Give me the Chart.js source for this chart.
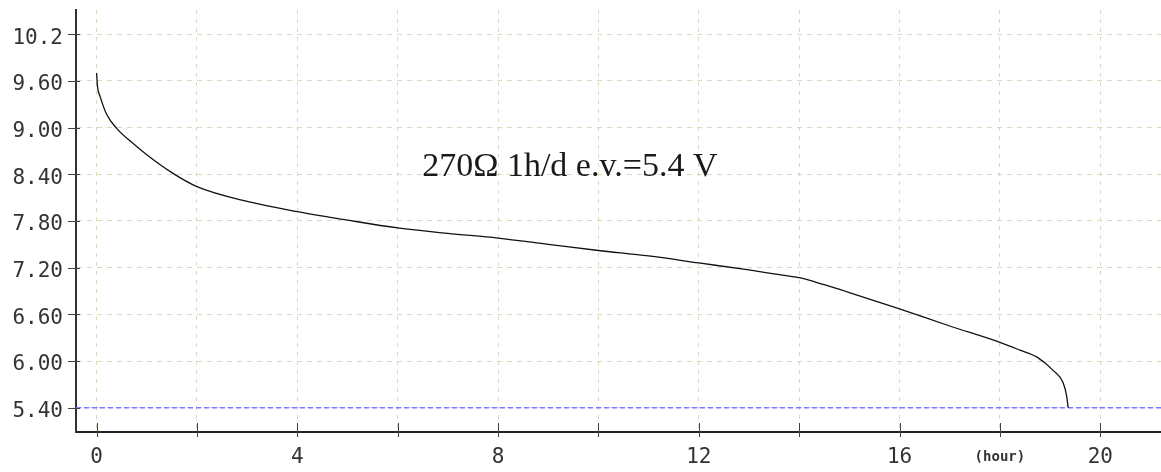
<!DOCTYPE html>
<html>
<head>
<meta charset="utf-8">
<script src="https://cdn.jsdelivr.net/npm/chart.js@4/dist/chart.umd.min.js"></script>
<style>
  html, body { margin: 0; padding: 0; background: #fff; }
  #wrap { width: 1161px; height: 472px; }
</style>
</head>
<body>
<div id="wrap"><canvas id="dischargeChart"></canvas></div>
<script>
// discharge curve (hours, volts)
const hours = [0, 0.02, 0.07, 0.2, 0.4, 0.7, 1.0, 1.5, 2, 3, 4, 5, 6, 7, 8, 9, 10, 11, 12, 13, 13.5, 14, 14.5, 15, 16, 17, 18, 18.4, 18.74, 19.06, 19.26, 19.33, 19.36];
const volts = [9.70, 9.52, 9.40, 9.17, 8.99, 8.81, 8.65, 8.42, 8.24, 8.05, 7.92, 7.81, 7.71, 7.64, 7.58, 7.50, 7.42, 7.35, 7.26, 7.17, 7.12, 7.07, 6.98, 6.88, 6.67, 6.45, 6.24, 6.14, 6.05, 5.88, 5.72, 5.55, 5.40];

// end voltage line
const endVoltage = 5.4;

// axes
const xTicks = [0, 2, 4, 6, 8, 10, 12, 14, 16, 18, 20];
const xTickLabels = ['0', '', '4', '', '8', '', '12', '', '16', '(hour)', '20'];
const yTicks = [5.4, 6.0, 6.6, 7.2, 7.8, 8.4, 9.0, 9.6, 10.2];
const yTickLabels = ['5.40', '6.00', '6.60', '7.20', '7.80', '8.40', '9.00', '9.60', '10.2'];
const xMin = -0.41, xMax = 21.21;
const yMin = 5.088, yMax = 10.51;

const noteText = '270\u03A9 1h/d e.v.=5.4 V';

const gridColor = 'rgba(205, 205, 170, 0.75)';

// tick marks that cross the axis lines, plus the note
const axisExtras = {
  id: 'axisExtras',
  afterDraw(chart) {
    const { ctx, scales: { x, y }, chartArea } = chart;
    ctx.save();
    ctx.strokeStyle = '#444';
    ctx.lineWidth = 1;
    xTicks.forEach(v => {
      const px = Math.round(x.getPixelForValue(v)) + 0.5;
      ctx.beginPath();
      ctx.moveTo(px, chartArea.bottom - 9);
      ctx.lineTo(px, chartArea.bottom + 5);
      ctx.stroke();
    });
    yTicks.forEach(v => {
      const py = Math.round(y.getPixelForValue(v)) + 0.5;
      ctx.beginPath();
      ctx.moveTo(chartArea.left - 8, py);
      ctx.lineTo(chartArea.left + 4, py);
      ctx.stroke();
    });
    ctx.fillStyle = '#1a1a1a';
    ctx.font = '34px "Liberation Serif", serif';
    ctx.textAlign = 'center';
    ctx.textBaseline = 'middle';
    ctx.fillText(noteText, x.getPixelForValue(9.43), y.getPixelForValue(8.49));
    ctx.restore();
  }
};

// no extra room for the end labels, the plot runs to the edges
const noScalePadding = scale => {
  scale.paddingTop = 0;
  scale.paddingBottom = 0;
  scale.paddingLeft = 0;
  scale.paddingRight = 0;
};

const ctx = document.getElementById('dischargeChart').getContext('2d');
new Chart(ctx, {
  type: 'line',
  data: {
    datasets: [
      {
        data: hours.map((h, i) => ({ x: h, y: volts[i] })),
        borderColor: '#111',
        borderWidth: 1.3,
        pointRadius: 0,
        cubicInterpolationMode: 'monotone',
        fill: false
      },
      {
        data: [{ x: xMin, y: endVoltage }, { x: xMax, y: endVoltage }],
        borderColor: '#7777ff',
        borderWidth: 1.5,
        borderDash: [5, 3],
        pointRadius: 0,
        fill: false
      }
    ]
  },
  options: {
    responsive: true,
    maintainAspectRatio: false,
    animation: false,
    layout: { padding: { top: 10, right: 0, bottom: 0, left: 0 } },
    plugins: {
      legend: { display: false },
      tooltip: { enabled: false }
    },
    scales: {
      x: {
        type: 'linear',
        min: xMin,
        max: xMax,
        afterBuildTicks: scale => { scale.ticks = xTicks.map(v => ({ value: v })); },
        afterFit: scale => { scale.height = 40; noScalePadding(scale); },
        ticks: {
          autoSkip: false,
          maxRotation: 0,
          padding: 13,
          color: '#333',
          font: ctx => xTickLabels[ctx.index] === '(hour)'
            ? { family: '"DejaVu Sans Mono", monospace', size: 14, weight: 'bold', lineHeight: 1.8 }
            : { family: '"DejaVu Sans Mono", monospace', size: 21 },
          callback: (v, i) => xTickLabels[i]
        },
        grid: {
          color: gridColor,
          lineWidth: 1,
          drawTicks: false
        },
        border: { display: true, color: '#222', width: 2, dash: [4, 5] }
      },
      y: {
        type: 'linear',
        min: yMin,
        max: yMax,
        afterBuildTicks: scale => { scale.ticks = yTicks.map(v => ({ value: v })); },
        afterFit: scale => { scale.width = 76; noScalePadding(scale); },
        ticks: {
          padding: 13,
          labelOffset: 4,
          color: '#333',
          font: { family: '"DejaVu Sans Mono", monospace', size: 21 },
          callback: (v, i) => yTickLabels[i]
        },
        grid: {
          color: gridColor,
          lineWidth: 1,
          drawTicks: false
        },
        border: { display: true, color: '#333', width: 2, dash: [5, 5] }
      }
    }
  },
  plugins: [axisExtras]
});
</script>
</body>
</html>
